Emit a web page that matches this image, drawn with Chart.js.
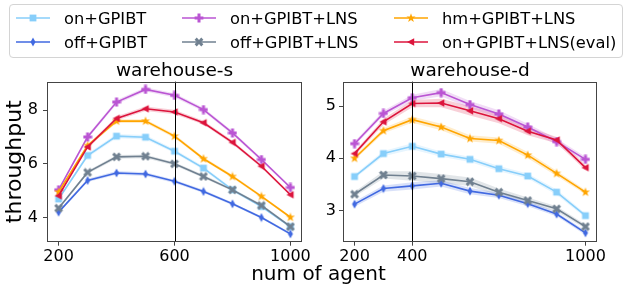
<!DOCTYPE html>
<html>
<head>
<meta charset="utf-8">
<script src="https://cdn.jsdelivr.net/npm/chart.js@4.4.1/dist/chart.umd.min.js"></script>
<style>
  body { margin: 0; width: 624px; height: 286px; background: #fff; position: relative; overflow: hidden; font-family: "DejaVu Sans", sans-serif; }
  canvas.plot { position: absolute; }
  #legend { position: absolute; left: 9px; top: 4px; width: 614px; height: 54px; box-sizing: border-box; border: 1px solid #d4d4d4; border-radius: 4px; }
  .item { position: absolute; height: 20px; display: flex; align-items: center; font-size: 16.3px; color: #000; white-space: nowrap; }
  .item span { margin-left: 14px; }
  #xlabel { position: absolute; left: 0; width: 637px; top: 262px; text-align: center; font-size: 20px; line-height: 22px; color: #000; }
</style>
</head>
<body>
<div id="legend"></div>
<canvas class="plot" id="left" width="320" height="206" style="left:0;top:60px"></canvas>
<canvas class="plot" id="right" width="324" height="206" style="left:300px;top:60px"></canvas>
<div id="xlabel">num of agent</div>
<script>
// number of agents
const agents = [200, 300, 400, 500, 600, 700, 800, 900, 1000];

// warehouse-s: mean throughput
const onGpibtS  = [4.69, 6.31, 7.03, 6.99, 6.47, 5.84, 5.03, 4.41, 3.66];
const offGpibtS = [4.20, 5.38, 5.66, 5.62, 5.35, 4.97, 4.51, 4.00, 3.39];
const onLnsS    = [5.03, 7.00, 8.30, 8.77, 8.55, 8.02, 7.15, 6.16, 5.12];
const offLnsS   = [4.35, 5.68, 6.26, 6.28, 6.00, 5.53, 5.03, 4.45, 3.66];
const hmLnsS    = [4.95, 6.68, 7.59, 7.59, 7.03, 6.19, 5.53, 4.79, 4.01];
const evalLnsS  = [4.81, 6.63, 7.69, 8.05, 7.93, 7.53, 6.80, 5.91, 4.85];
// warehouse-s: spread (shaded band)
const onGpibtSdS  = [0.05, 0.07, 0.08, 0.08, 0.07, 0.07, 0.06, 0.05, 0.05];
const offGpibtSdS = [0.05, 0.06, 0.07, 0.07, 0.06, 0.06, 0.05, 0.05, 0.05];
const onLnsSdS    = [0.05, 0.07, 0.08, 0.08, 0.08, 0.07, 0.07, 0.06, 0.05];
const offLnsSdS   = [0.05, 0.06, 0.07, 0.07, 0.06, 0.06, 0.05, 0.05, 0.05];
const hmLnsSdS    = [0.05, 0.06, 0.07, 0.07, 0.07, 0.06, 0.06, 0.05, 0.05];
const evalLnsSdS  = [0.05, 0.07, 0.08, 0.08, 0.08, 0.07, 0.07, 0.06, 0.05];

// warehouse-d: mean throughput
const onGpibtD  = [3.65, 4.09, 4.23, 4.08, 3.98, 3.80, 3.66, 3.35, 2.90];
const offGpibtD = [3.12, 3.42, 3.47, 3.52, 3.37, 3.29, 3.13, 2.93, 2.57];
const onLnsD    = [4.28, 4.86, 5.16, 5.26, 5.03, 4.85, 4.60, 4.32, 3.98];
const offLnsD   = [3.31, 3.68, 3.66, 3.61, 3.55, 3.35, 3.19, 3.03, 2.69];
const hmLnsD    = [4.00, 4.53, 4.74, 4.60, 4.38, 4.34, 4.06, 3.71, 3.35];
const evalLnsD  = [4.09, 4.70, 5.05, 5.06, 4.91, 4.76, 4.52, 4.35, 3.82];
// warehouse-d: spread (shaded band)
const onGpibtSdD  = [0.04, 0.05, 0.06, 0.05, 0.05, 0.05, 0.05, 0.05, 0.04];
const offGpibtSdD = [0.05, 0.06, 0.07, 0.06, 0.06, 0.05, 0.05, 0.04, 0.04];
const onLnsSdD    = [0.04, 0.05, 0.06, 0.07, 0.07, 0.07, 0.06, 0.06, 0.05];
const offLnsSdD   = [0.05, 0.07, 0.09, 0.09, 0.08, 0.07, 0.06, 0.05, 0.04];
const hmLnsSdD    = [0.04, 0.05, 0.06, 0.06, 0.06, 0.06, 0.06, 0.05, 0.04];
const evalLnsSdD  = [0.04, 0.06, 0.07, 0.08, 0.09, 0.09, 0.08, 0.06, 0.05];

const names = ['on+GPIBT', 'off+GPIBT', 'on+GPIBT+LNS', 'off+GPIBT+LNS', 'hm+GPIBT+LNS', 'on+GPIBT+LNS(eval)'];
const ticksXS = [200, 600, 1000];
const ticksXD = [200, 400, 1000];
const ticksYS = [4, 6, 8];
const ticksYD = [3, 4, 5];
const markS = 600;
const markD = 400;

const colors = ['#87cefa', '#4169e1', '#ba55d3', '#708090', '#ffa500', '#dc143c'];
const shapes = ['square', 'diamond', 'plus', 'x', 'star', 'tri'];
const font = '"DejaVu Sans", sans-serif';

function marker(kind, color) {
  const c = document.createElement('canvas');
  c.width = 10; c.height = 10;
  const g = c.getContext('2d');
  g.fillStyle = color;
  g.translate(5, 5);
  let pts = [];
  if (kind === 'square') pts = [[-3.4, -3.4], [3.4, -3.4], [3.4, 3.4], [-3.4, 3.4]];
  if (kind === 'diamond') pts = [[0, -4.5], [2.5, 0], [0, 4.5], [-2.5, 0]];
  if (kind === 'tri') pts = [[-4, 0], [3.2, -3.7], [3.2, 3.7]];
  if (kind === 'plus' || kind === 'x') {
    const a = 1.5, r = kind === 'plus' ? 4.4 : 4.7;
    pts = [[-a,-r],[a,-r],[a,-a],[r,-a],[r,a],[a,a],[a,r],[-a,r],[-a,a],[-r,a],[-r,-a],[-a,-a]];
    if (kind === 'x') g.rotate(Math.PI / 4);
  }
  if (kind === 'star') {
    for (let k = 0; k < 10; k++) {
      const rr = k % 2 ? 1.9 : 4.8;
      const ang = -Math.PI / 2 + k * Math.PI / 5;
      pts.push([rr * Math.cos(ang), rr * Math.sin(ang)]);
    }
  }
  g.beginPath();
  pts.forEach((p, i) => i ? g.lineTo(p[0], p[1]) : g.moveTo(p[0], p[1]));
  g.closePath();
  g.fill();
  return c;
}
const markers = shapes.map((s, i) => marker(s, colors[i]));

function alpha(hex, a) {
  const n = parseInt(hex.slice(1), 16);
  return `rgba(${n >> 16},${(n >> 8) & 255},${n & 255},${a})`;
}

function buildSets(means, sds) {
  const sets = [];
  means.forEach((m, i) => {
    const idx = sets.length;
    sets.push({
      data: agents.map((a, k) => ({x: a, y: m[k] + sds[i][k]})),
      borderWidth: 0, pointRadius: 0, backgroundColor: alpha(colors[i], 0.2),
      fill: idx + 1, order: 100
    });
    sets.push({
      data: agents.map((a, k) => ({x: a, y: m[k] - sds[i][k]})),
      borderWidth: 0, pointRadius: 0, fill: false, order: 100
    });
    sets.push({
      label: names[i],
      data: agents.map((a, k) => ({x: a, y: m[k]})),
      borderColor: colors[i], backgroundColor: colors[i], borderWidth: 1.6,
      pointStyle: markers[i], pointRadius: 4, fill: false, tension: 0,
      order: 10 - i
    });
  });
  return sets;
}

const framePlugin = {
  id: 'frame',
  afterDatasetsDraw(chart, args, o) {
    const {ctx, chartArea: a, scales} = chart;
    const x = Math.round(scales.x.getPixelForValue(o.mark)) + 0.5;
    ctx.save();
    ctx.lineWidth = 1;
    ctx.strokeStyle = '#000';
    ctx.beginPath(); ctx.moveTo(x, a.top); ctx.lineTo(x, a.bottom); ctx.stroke();
    ctx.strokeStyle = '#444';
    ctx.strokeRect(Math.round(a.left) + 0.5, Math.round(a.top) + 0.5,
      Math.round(a.right - a.left) - 1, Math.round(a.bottom - a.top) - 1);
    ctx.restore();
  }
};

function makeChart(id, title, sets, yMin, yMax, xTicks, yTicks, mark, yWidth, yPad, padRight, yTitle) {
  return new Chart(document.getElementById(id), {
    type: 'line',
    data: {datasets: sets},
    plugins: [framePlugin],
    options: {
      responsive: false, animation: false,
      layout: {padding: {left: 0, top: 0, right: padRight, bottom: 0}},
      plugins: {
        legend: {display: false}, tooltip: {enabled: false},
        title: {display: true, text: title, fullSize: false, color: '#000',
          font: {family: font, size: 18.5, weight: 'normal', lineHeight: 1.17},
          padding: {top: 0, bottom: 0}},
        frame: {mark: mark}
      },
      scales: {
        x: {
          type: 'linear', min: 160, max: 1040,
          afterFit: s => { s.height = 24.3; },
          afterBuildTicks: s => { s.ticks = xTicks.map(v => ({value: v})); },
          grid: {drawOnChartArea: false, drawTicks: true, tickLength: 4, color: '#444'},
          border: {display: false},
          ticks: {color: '#000', padding: 2, maxRotation: 0, callback: v => String(v),
            font: {family: font, size: 16}}
        },
        y: {
          min: yMin, max: yMax,
          afterFit: s => { s.width = yWidth; },
          afterBuildTicks: s => { s.ticks = yTicks.map(v => ({value: v})); },
          grid: {drawOnChartArea: false, drawTicks: true, tickLength: 4, color: '#444'},
          border: {display: false},
          ticks: {color: '#000', padding: yPad, callback: v => String(v),
            font: {family: font, size: 16}},
          title: {display: !!yTitle, text: yTitle || '', color: '#000',
            font: {family: font, size: 22, weight: 'normal', lineHeight: 1.2},
            padding: {top: 2, bottom: 0}}
        }
      }
    }
  });
}

makeChart('left', 'warehouse-s',
  buildSets([onGpibtS, offGpibtS, onLnsS, offLnsS, hmLnsS, evalLnsS],
            [onGpibtSdS, offGpibtSdS, onLnsSdS, offLnsSdS, hmLnsSdS, evalLnsSdS]),
  3.1, 9.06, ticksXS, ticksYS, markS, 47, 5, 18, 'throughput');

makeChart('right', 'warehouse-d',
  buildSets([onGpibtD, offGpibtD, onLnsD, offLnsD, hmLnsD, evalLnsD],
            [onGpibtSdD, offGpibtSdD, onLnsSdD, offLnsSdD, hmLnsSdD, evalLnsSdD]),
  2.4, 5.47, ticksXD, ticksYD, markD, 43, 3, 27, null);

// legend, three columns (column-major like the original)
const legend = document.getElementById('legend');
const colX = [6, 172, 384];
const rowTop = [3, 27];
names.forEach((n, i) => {
  const item = document.createElement('div');
  item.className = 'item';
  item.style.left = colX[Math.floor(i / 2)] + 'px';
  item.style.top = rowTop[i % 2] + 'px';
  const c = document.createElement('canvas');
  c.width = 34; c.height = 14;
  const g = c.getContext('2d');
  g.strokeStyle = colors[i]; g.lineWidth = 1.6;
  g.beginPath(); g.moveTo(0, 7); g.lineTo(34, 7); g.stroke();
  g.drawImage(markers[i], 12, 2);
  const t = document.createElement('span');
  t.textContent = n;
  item.appendChild(c);
  item.appendChild(t);
  legend.appendChild(item);
});
</script>
</body>
</html>
